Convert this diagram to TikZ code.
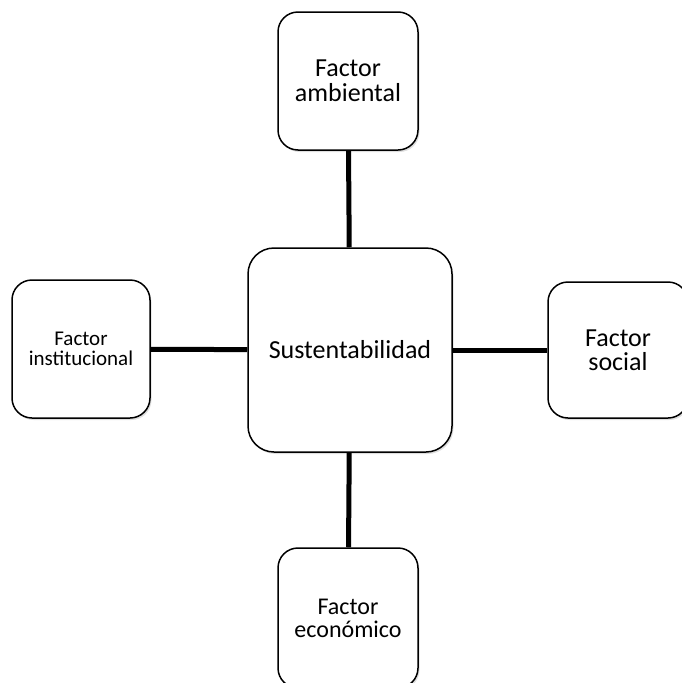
\documentclass[tikz,border=0pt]{standalone}
\usepackage{fontspec}
\setmainfont{Carlito}
\usetikzlibrary{shadows}
\tikzset{
  factor/.style={draw, line width=1.5pt, rounded corners=20pt, fill=white,
    align=center, minimum width=140pt, minimum height=138pt, inner sep=0pt,
    drop shadow={opacity=0.25, shadow xshift=1.5pt, shadow yshift=-2pt}},
  link/.style={line width=5pt}
}
\begin{document}
\begin{tikzpicture}[x=1pt,y=-1pt]
  \useasboundingbox (0,0) rectangle (681,683);
  \node[factor, minimum width=204pt, minimum height=204pt, rounded corners=26pt,
    font=\fontsize{26}{26}\selectfont] (core) at (350,350) {Sustentabilidad};
  \node[factor, font=\fontsize{26}{25}\selectfont] (amb) at (348,81) {Factor\\ambiental};
  \node[factor, minimum width=138pt, font=\fontsize{21}{20}\selectfont] (inst) at (81,349) {Factor\\institucional};
  \node[factor, minimum height=136pt, font=\fontsize{26}{24}\selectfont] (soc) at (618,350) {Factor\\social};
  \node[factor, minimum height=140pt, font=\fontsize{24}{23}\selectfont] (eco) at (348,618) {Factor\\económico};
  \draw[link] (core) -- (amb);
  \draw[link] (core) -- (inst);
  \draw[link] (core) -- (soc);
  \draw[link] (core) -- (eco);
\end{tikzpicture}
\end{document}
